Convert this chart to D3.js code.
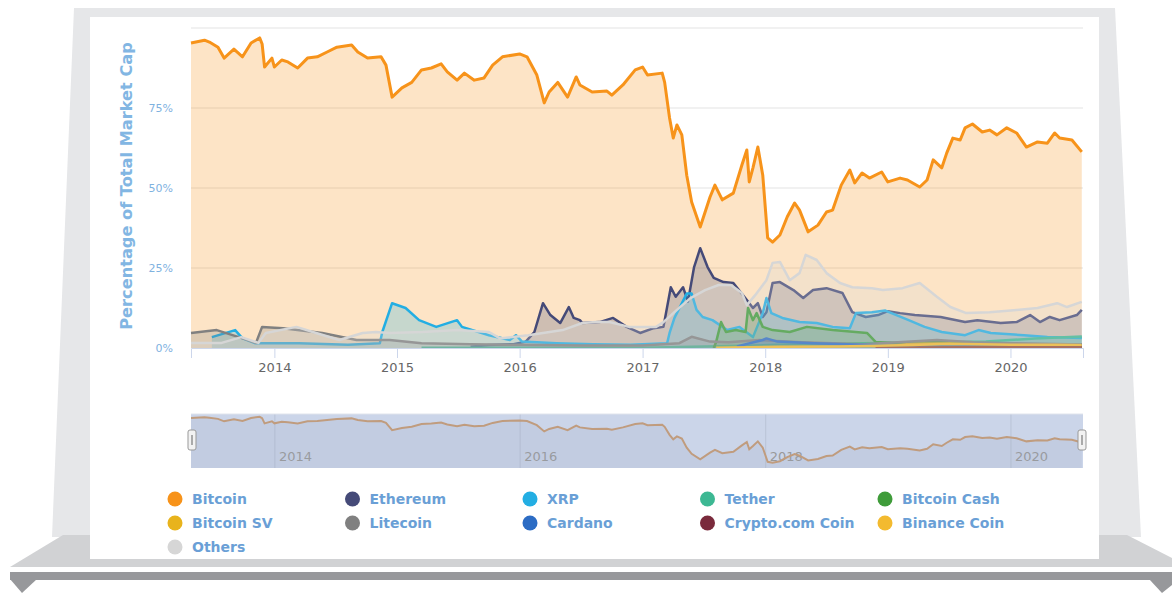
<!DOCTYPE html>
<html><head><meta charset="utf-8">
<script src="https://cdn.jsdelivr.net/npm/d3@7"></script>
<style>body{margin:0;background:#fff;}svg{display:block;font-family:"DejaVu Sans",sans-serif;}</style>
</head><body>
<svg id="c" width="1172" height="593"></svg>
<script>
// ---- data: [decimal year, % of total market cap] ----
const bitcoin = [[2013.32,95.3],[2013.43,96.2],[2013.47,95.6],[2013.54,94],[2013.59,90.6],[2013.67,93.4],[2013.74,91],[2013.81,95.3],[2013.88,96.9],[2013.90,95],[2013.92,87.8],[2013.98,90.6],[2014.00,87.8],[2014.06,90],[2014.11,89.4],[2014.19,87.5],[2014.27,90.6],[2014.35,91],[2014.43,92.5],[2014.51,94],[2014.63,94.7],[2014.68,92.5],[2014.76,90.6],[2014.87,91],[2014.91,88.4],[2014.96,78.4],[2015.04,81.3],[2015.12,83],[2015.20,86.9],[2015.28,87.5],[2015.36,88.8],[2015.41,86.3],[2015.49,83.7],[2015.55,85.9],[2015.63,83.7],[2015.71,84.4],[2015.78,88.4],[2015.86,91],[2016.00,91.9],[2016.06,91],[2016.14,85.3],[2016.20,76.6],[2016.24,80],[2016.31,83],[2016.39,78.4],[2016.46,84.7],[2016.49,82.2],[2016.59,80],[2016.71,80.3],[2016.75,79],[2016.84,82.2],[2016.94,86.9],[2017.00,87.8],[2017.04,85.3],[2017.16,85.9],[2017.18,83],[2017.22,71.9],[2017.25,65.6],[2017.28,69.7],[2017.32,66.6],[2017.36,54],[2017.40,45.6],[2017.47,37.8],[2017.55,47.2],[2017.59,50.9],[2017.65,46.3],[2017.74,48.4],[2017.81,57.2],[2017.85,61.9],[2017.87,51.9],[2017.90,56.3],[2017.94,62.8],[2017.98,54],[2018.02,34.4],[2018.06,33.1],[2018.12,35.3],[2018.18,41],[2018.24,45.3],[2018.28,43.1],[2018.35,36.3],[2018.43,38.4],[2018.50,42.5],[2018.55,43.1],[2018.62,50.9],[2018.69,55.6],[2018.73,51.6],[2018.79,54.7],[2018.85,53.1],[2018.95,55],[2019.00,51.9],[2019.10,53.1],[2019.16,52.5],[2019.26,50.3],[2019.32,52.5],[2019.37,58.8],[2019.44,56.3],[2019.48,60.9],[2019.53,65.6],[2019.59,65],[2019.63,68.8],[2019.69,70],[2019.77,67.5],[2019.83,68.1],[2019.89,66.6],[2019.97,68.8],[2020.05,67.2],[2020.13,62.8],[2020.22,64.4],[2020.30,64],[2020.36,67.2],[2020.40,65.6],[2020.50,65],[2020.58,61.3]];
const ethereum = [[2015.60,0.4],[2015.75,0.9],[2015.95,1.2],[2016.05,2],[2016.12,5],[2016.19,14],[2016.25,10.3],[2016.33,7.8],[2016.40,12.8],[2016.44,9.4],[2016.49,8.7],[2016.51,7.8],[2016.65,8.1],[2016.76,9.4],[2016.87,6.6],[2016.98,4.7],[2017.09,6.2],[2017.17,6.6],[2017.23,19],[2017.27,16],[2017.33,19],[2017.37,14.5],[2017.42,25.3],[2017.47,31.2],[2017.53,25.3],[2017.58,21.9],[2017.66,20.6],[2017.74,20.3],[2017.85,15],[2017.90,12.5],[2017.94,14],[2017.98,9.7],[2018.01,11.2],[2018.06,20.3],[2018.12,20.6],[2018.23,18.1],[2018.31,15.6],[2018.39,18.1],[2018.50,18.7],[2018.63,17.2],[2018.71,11.2],[2018.82,9.7],[2018.92,10.3],[2019.00,11.5],[2019.10,10.9],[2019.22,10.3],[2019.43,9.7],[2019.63,8.1],[2019.73,8.7],[2019.92,7.8],[2020.05,8.1],[2020.16,10.3],[2020.24,8.1],[2020.32,9.7],[2020.40,8.7],[2020.54,10.3],[2020.58,11.9]];
const xrp = [[2013.49,3.4],[2013.68,5.6],[2013.74,3],[2013.84,1.5],[2014.20,1.5],[2014.60,1],[2014.86,1.5],[2014.88,5],[2014.96,14],[2015.07,12.5],[2015.18,8.7],[2015.32,6.6],[2015.49,8.7],[2015.53,6.6],[2015.75,4],[2015.92,2.5],[2015.97,4],[2016.02,2],[2016.30,1.5],[2016.60,1.2],[2016.90,1],[2017.20,1.5],[2017.22,4.7],[2017.26,9.4],[2017.36,17],[2017.40,17],[2017.44,11.9],[2017.49,9.7],[2017.57,8.7],[2017.69,5.6],[2017.79,6.6],[2017.90,3.4],[2017.98,10.9],[2018.01,15.6],[2018.05,10.9],[2018.14,9.4],[2018.28,8.1],[2018.42,7.8],[2018.55,6.6],[2018.69,6.2],[2018.74,10.9],[2018.87,11.2],[2018.98,11.7],[2019.17,8.7],[2019.30,6.6],[2019.44,5],[2019.63,4],[2019.74,5.6],[2019.84,4.7],[2020.11,4],[2020.30,3.4],[2020.58,3.1]];
const tether = [[2015.20,0.1],[2017.00,0.1],[2017.90,0.8],[2018.10,1],[2018.80,1.5],[2019.30,1.7],[2019.80,2],[2020.20,3],[2020.58,3.6]];
const bitcoinCash = [[2017.58,0],[2017.60,1.9],[2017.64,8.1],[2017.68,5],[2017.76,5.6],[2017.84,5],[2017.86,12.5],[2017.90,8.7],[2017.93,10.9],[2017.98,6.6],[2018.06,5.6],[2018.20,5],[2018.34,6.6],[2018.55,5.6],[2018.83,4.7],[2018.90,1.9],[2019.10,1.5],[2019.40,2],[2019.70,1.2],[2020.00,1.1],[2020.58,0.9]];
const bitcoinSV = [[2018.87,0.6],[2019.00,0.6],[2019.20,1.3],[2019.40,1.4],[2019.80,1.1],[2020.20,1.0],[2020.58,0.8]];
const litecoin = [[2013.32,4.7],[2013.53,5.6],[2013.71,3.4],[2013.85,1.6],[2013.90,6.6],[2014.07,6.2],[2014.39,4.7],[2014.67,2.5],[2014.94,2.5],[2015.20,1.5],[2015.60,1.2],[2016.00,1],[2016.50,0.8],[2017.00,0.8],[2017.30,1.5],[2017.40,3.5],[2017.55,2],[2017.70,1.8],[2017.95,2.5],[2018.30,1.8],[2018.80,1.2],[2019.40,2.5],[2019.70,1.8],[2020.00,1.5],[2020.58,1.1]];
const cardano = [[2017.77,0.5],[2017.98,2.5],[2018.01,3],[2018.10,2],[2018.40,1.5],[2019.00,0.8],[2019.50,0.6],[2020.30,0.8],[2020.58,1.2]];
const cryptoCom = [[2018.90,0.05],[2019.60,0.2],[2020.58,0.4]];
const binanceCoin = [[2017.60,0.05],[2018.10,0.4],[2018.60,0.5],[2019.20,0.9],[2019.50,1.3],[2020.00,1.0],[2020.58,1.0]];
const others = [[2013.32,1.6],[2013.57,1.6],[2013.73,3.4],[2013.87,1.6],[2013.93,4.7],[2014.18,6.6],[2014.34,4.7],[2014.53,2.5],[2014.72,4.7],[2014.83,5],[2014.94,4.7],[2015.21,5],[2015.49,5.6],[2015.75,5],[2015.84,3],[2016.07,4],[2016.35,5.6],[2016.51,7.8],[2016.62,8.1],[2016.73,8.1],[2016.89,6.6],[2017.11,6.6],[2017.17,8.1],[2017.28,11.9],[2017.39,15.6],[2017.51,18.1],[2017.62,19.7],[2017.72,19.7],[2017.81,17.2],[2017.85,13.4],[2017.92,16.6],[2018.01,21.2],[2018.06,26.6],[2018.12,26.9],[2018.20,21.2],[2018.28,23.4],[2018.33,29.1],[2018.42,27.5],[2018.50,23.4],[2018.61,20.3],[2018.71,19],[2018.87,18.7],[2018.96,18.1],[2019.12,18.7],[2019.26,20.3],[2019.40,16],[2019.51,12.8],[2019.64,10.9],[2019.83,11.2],[2020.05,11.9],[2020.22,12.5],[2020.38,14],[2020.46,12.8],[2020.58,14.4]];

const seriesNames = ["Bitcoin","Ethereum","XRP","Tether","Bitcoin Cash","Bitcoin SV","Litecoin","Cardano","Crypto.com Coin","Binance Coin","Others"];
const seriesData = [bitcoin,ethereum,xrp,tether,bitcoinCash,bitcoinSV,litecoin,cardano,cryptoCom,binanceCoin,others];
const seriesColors = ["#f7931a","#454a78","#23aee3","#3db893","#3f9c3a","#e8b31c","#808080","#2c6cc4","#7a2a3c","#f3ba2f","#d6d6d6"];
const yTicks = [0,25,50,75];
const xTickYears = [2014,2015,2016,2017,2018,2019,2020];
const navTickYears = [2014,2016,2018,2020];
const yTitle = "Percentage of Total Market Cap";

// ---- helpers ----
function toDate(d){const yr=Math.floor(d);const s=Date.UTC(yr,0,1),e=Date.UTC(yr+1,0,1);return new Date(s+(d-yr)*(e-s));}

const svg = d3.select("#c");

// laptop frame
svg.append("polygon").attr("points","74,8 1115,8 1141,537 52,537").attr("fill","#e6e7e9");
svg.append("polygon").attr("points","63,535 1127,535 1172,558 1172,567 10,567").attr("fill","#d1d2d4");
svg.append("rect").attr("x",90).attr("y",17).attr("width",1009).attr("height",542).attr("fill","#fff");
svg.append("rect").attr("x",10).attr("y",572).attr("width",1162).attr("height",8).attr("fill","#97989b");
svg.append("polygon").attr("points","10,579 37,579 22,593").attr("fill","#97989b");
svg.append("polygon").attr("points","1149,579 1172,579 1172,585 1162,593").attr("fill","#97989b");

// scales
const x = d3.scaleUtc().domain([toDate(2013.32),toDate(2020.59)]).range([191,1083]);
const y = d3.scaleLinear().domain([0,100]).range([348,28]);

// grid
svg.append("g").selectAll("line").data([25,50,75,100]).join("line")
  .attr("x1",191).attr("x2",1083).attr("y1",d=>y(d)).attr("y2",d=>y(d))
  .attr("stroke","#e3e3e3").attr("stroke-width",1);

// series
const area = d3.area().x(d=>x(toDate(d[0]))).y0(y(0)).y1(d=>y(d[1]));
const line = d3.line().x(d=>x(toDate(d[0]))).y(d=>y(d[1]));
const sg = svg.append("g");
seriesData.forEach((data,i)=>{
  const g = sg.append("g");
  g.append("path").attr("d",area(data)).attr("fill",seriesColors[i]).attr("fill-opacity",0.25);
  g.append("path").attr("d",line(data)).attr("fill","none").attr("stroke",seriesColors[i])
    .attr("stroke-width",i===0?3:2.5).attr("stroke-linejoin","round");
});

// x axis
const xAxis = svg.append("g").attr("transform","translate(0,348)")
  .call(d3.axisBottom(x).tickValues(xTickYears.map(toDate)).tickFormat(d3.utcFormat("%Y")).tickSize(10).tickPadding(5));
xAxis.select(".domain").attr("stroke","#ccd6eb");
xAxis.selectAll(".tick line").attr("stroke","#ccd6eb");
xAxis.selectAll("text").attr("fill","#666").attr("font-size",13).attr("font-family","DejaVu Sans");

// y axis
const yAxis = svg.append("g").attr("transform","translate(191,0)")
  .call(d3.axisLeft(y).tickValues(yTicks).tickFormat(d=>d+"%").tickSize(0).tickPadding(18));
yAxis.select(".domain").remove();
yAxis.selectAll("text").attr("fill","#7fb2df").attr("font-size",11).attr("font-family","DejaVu Sans");

svg.append("text").attr("transform","translate(132,186) rotate(-90)")
  .attr("text-anchor","middle").attr("font-weight","bold").attr("font-size",16.2)
  .attr("fill","#82b6e3").text(yTitle);

// navigator
const navTop=414, navBot=468;
const yn = d3.scaleLinear().domain([30,98]).range([465,416]);
svg.append("rect").attr("x",191).attr("y",navTop).attr("width",892).attr("height",navBot-navTop).attr("fill","#cbd5e9");
const navAxis = svg.append("g").attr("transform",`translate(0,${navTop})`)
  .call(d3.axisBottom(x).tickValues(navTickYears.map(toDate)).tickFormat(d3.utcFormat("%Y")).tickSize(navBot-navTop).tickPadding(0));
navAxis.select(".domain").remove();
navAxis.selectAll(".tick line").attr("stroke","#b9c3d6");
navAxis.selectAll("text").attr("fill","#999").attr("font-size",13).attr("font-family","DejaVu Sans")
  .attr("text-anchor","start").attr("dx",4).attr("y",38).attr("dy","0.7em");
const navArea = d3.area().x(d=>x(toDate(d[0]))).y0(navBot).y1(d=>yn(d[1]));
const navLine = d3.line().x(d=>x(toDate(d[0]))).y(d=>yn(d[1]));
svg.append("path").attr("d",navArea(bitcoin)).attr("fill","#9aa6bf").attr("fill-opacity",0.18);
svg.append("path").attr("d",navLine(bitcoin)).attr("fill","none").attr("stroke","#c09c7e").attr("stroke-width",2);
svg.append("line").attr("x1",191).attr("x2",1083).attr("y1",navTop).attr("y2",navTop).attr("stroke","#e0e4ec");
[x.range()[0]+1, x.range()[1]-1].forEach(hx=>{
  svg.append("rect").attr("x",hx-4).attr("y",430).attr("width",8).attr("height",20).attr("rx",2)
    .attr("fill","#f2f2f2").attr("stroke","#999");
  svg.append("line").attr("x1",hx).attr("x2",hx).attr("y1",435).attr("y2",445).attr("stroke","#aaa").attr("stroke-width",2);
});

// legend
const lg = svg.append("g");
seriesNames.forEach((name,i)=>{
  const col=i%5,row=Math.floor(i/5);
  const cx=175+col*177.5, cy=499+row*24;
  lg.append("circle").attr("cx",cx).attr("cy",cy).attr("r",7.5).attr("fill",seriesColors[i]);
  lg.append("text").attr("x",cx+17).attr("y",cy+5).attr("font-size",14).attr("font-weight","bold")
    .attr("fill","#6a9fd6").text(name);
});
</script>
</body></html>
